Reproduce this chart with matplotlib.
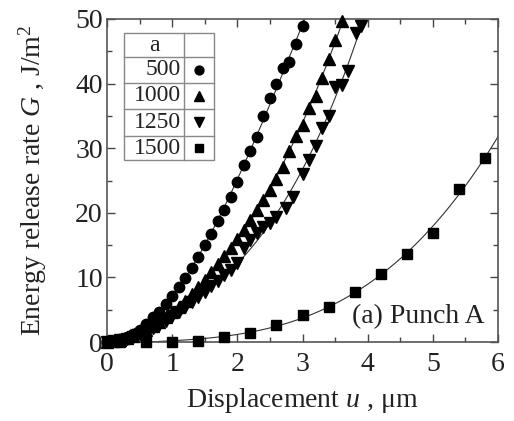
import numpy as np
import matplotlib as mpl
mpl.use('Agg')
import matplotlib.pyplot as plt
from matplotlib.lines import Line2D

# data
u500 = [0, .1, .2, .3, .4, .5, .6, .7, .8, .9, 1.0, 1.1, 1.2, 1.3, 1.4, 1.5,
        1.6, 1.7, 1.8, 1.9, 2.0, 2.1, 2.2, 2.3, 2.4, 2.5, 2.6, 2.7, 2.8, 2.9, 3.0]
G500 = [0, 0.15, 0.4, 0.85, 1.3, 1.9, 2.8, 3.8, 4.7, 5.9, 7.1, 8.5, 9.9, 11.5,
        13.2, 15.0, 16.7, 18.8, 20.5, 22.5, 24.7, 27.4, 29.5, 31.8, 35.0, 37.7,
        40.0, 42.4, 43.3, 46.2, 48.9]

u1000 = [0, .1, .2, .3, .4, .5, .6, .7, .8, .9, 1.0, 1.1, 1.2, 1.3, 1.4, 1.5,
         1.6, 1.7, 1.8, 1.9, 2.0, 2.1, 2.2, 2.3, 2.4, 2.5, 2.6, 2.7, 2.8, 2.9,
         3.0, 3.1, 3.2, 3.3, 3.4, 3.5, 3.6]
G1000 = [0, 0.1, 0.3, 0.6, 1.0, 1.4, 1.9, 2.5, 3.1, 3.8, 4.6, 5.4, 6.3, 7.4,
         8.5, 9.6, 10.8, 12.0, 13.3, 14.6, 16.0, 17.4, 18.9, 20.4, 22.0, 23.5,
         25.3, 27.1, 29.5, 31.9, 33.6, 36.2, 38.1, 40.8, 43.8, 46.7, 49.7]

u1250 = [0, .1, .2, .3, .4, .5, .6, .7, .8, .9, 1.0, 1.1, 1.2, 1.3, 1.4, 1.5,
         1.6, 1.7, 1.8, 1.9, 2.0, 2.1, 2.2, 2.3, 2.4, 2.5, 2.6, 2.75, 2.85,
         3.0, 3.1, 3.2, 3.3, 3.4, 3.5, 3.6, 3.7, 3.82, 3.9]
G1250 = [0, 0.1, 0.3, 0.5, 0.8, 1.2, 1.6, 2.1, 2.7, 3.3, 4.0, 4.7, 5.4, 6.2,
         7.0, 7.8, 8.6, 9.4, 10.3, 11.2, 12.2, 14.5, 15.8, 16.8, 17.8, 18.4,
         19.3, 20.7, 22.5, 26.0, 28.1, 30.4, 33.1, 35.0, 39.5, 39.8, 42.0,
         47.8, 48.9]

u1500 = [0.2, 0.6, 1.0, 1.4, 1.8, 2.2, 2.6, 3.0, 3.4, 3.8, 4.2, 4.6, 5.0, 5.4, 5.8]
G1500 = [0, 0, 0, 0.2, 0.8, 1.4, 2.7, 4.2, 5.4, 7.7, 10.5, 13.6, 16.9, 23.7, 28.5]

labels = ['500', '1000', '1250', '1500']
markers = ['o', '^', 'v', 's']
msizes = [7.5, 8.0, 8.0, 7.0]

ftsize = 20
plt.rc('font', family='Liberation Serif', size=ftsize)
plt.rc('mathtext', fontset='custom', it='Liberation Serif:italic',
       rm='Liberation Serif')

fig = plt.figure(figsize=(5.14, 4.21), dpi=100)
ax = fig.add_axes([107/514, 1-342/421, 391/514, 323/421])

series = [(u500, G500), (u1000, G1000), (u1250, G1250), (u1500, G1500)]
for k, (u, G) in enumerate(series):
    u = np.array(u)
    G = np.array(G)
    # fitted curve through the points
    c = np.polyfit(u, G, 3)
    uf = np.linspace(0, 6, 400)
    ax.plot(uf, np.polyval(c, uf), '-', color='#333333', lw=0.8, zorder=2)
    ax.plot(u, G, ls='none', marker=markers[k], ms=msizes[k], color='black',
            mec='black', zorder=3, clip_on=False)

ax.set_xlim(0, 6)
ax.set_ylim(0, 50)
ax.set_xticks(np.arange(0, 7, 1))
ax.set_yticks(np.arange(0, 60, 10))
ax.set_xticks(np.arange(0, 6.01, 0.5), minor=True)
ax.set_yticks(np.arange(0, 50.1, 5), minor=True)
ax.tick_params(which='both', direction='in', top=True, right=True,
               color='#444444', width=1.0, labelsize=ftsize, colors='#222222')
ax.tick_params(which='major', length=6, pad=3)
ax.tick_params(axis='x', which='major', pad=7)
ax.tick_params(which='minor', length=3.5)
for s in ax.spines.values():
    s.set_color('#555555')
    s.set_linewidth(1.2)

ax.set_xlabel(r'Displacement $u$ , $\mathrm{\mu m}$', fontsize=ftsize,
              color='#222222', labelpad=7)
ax.set_ylabel(r'Energy release rate $G$ , J/m$^2$', fontsize=ftsize,
              color='#222222', labelpad=19)

ax.text(0.967, 0.059, '(a) Punch A', transform=ax.transAxes, ha='right',
        va='baseline', fontsize=ftsize, color='#222222')

# legend drawn as a small table
x0, x1, x2 = 0.044, 0.198, 0.274
ys = [0.956, 0.883, 0.802, 0.722, 0.638, 0.563]
gc = '#888888'
ax.add_patch(plt.Rectangle((x0, ys[-1]), x2-x0, ys[0]-ys[-1],
             transform=ax.transAxes, fill=True, fc='white', ec=gc,
             lw=1.0, zorder=4))
for yy in ys[1:-1]:
    ax.add_line(Line2D([x0, x2], [yy, yy], transform=ax.transAxes,
                       color=gc, lw=1.0, zorder=5))
ax.add_line(Line2D([x1, x1], [ys[0], ys[-1]], transform=ax.transAxes,
                   color=gc, lw=1.0, zorder=5))
ax.text((x0+x1)/2, (ys[0]+ys[1])/2, 'a', transform=ax.transAxes,
        ha='center', va='center', fontsize=17, color='#222222', zorder=6)
for k in range(4):
    yc = (ys[k+1]+ys[k+2])/2
    ax.text(x1-0.008, yc, labels[k], transform=ax.transAxes, ha='right',
            va='center', fontsize=17, color='#222222', zorder=6)
    ax.plot([(x1+x2)/2], [yc], marker=markers[k], ms=msizes[k]*0.85,
            color='black', transform=ax.transAxes, zorder=6, clip_on=False)

fig.savefig('out.png', dpi=100)
